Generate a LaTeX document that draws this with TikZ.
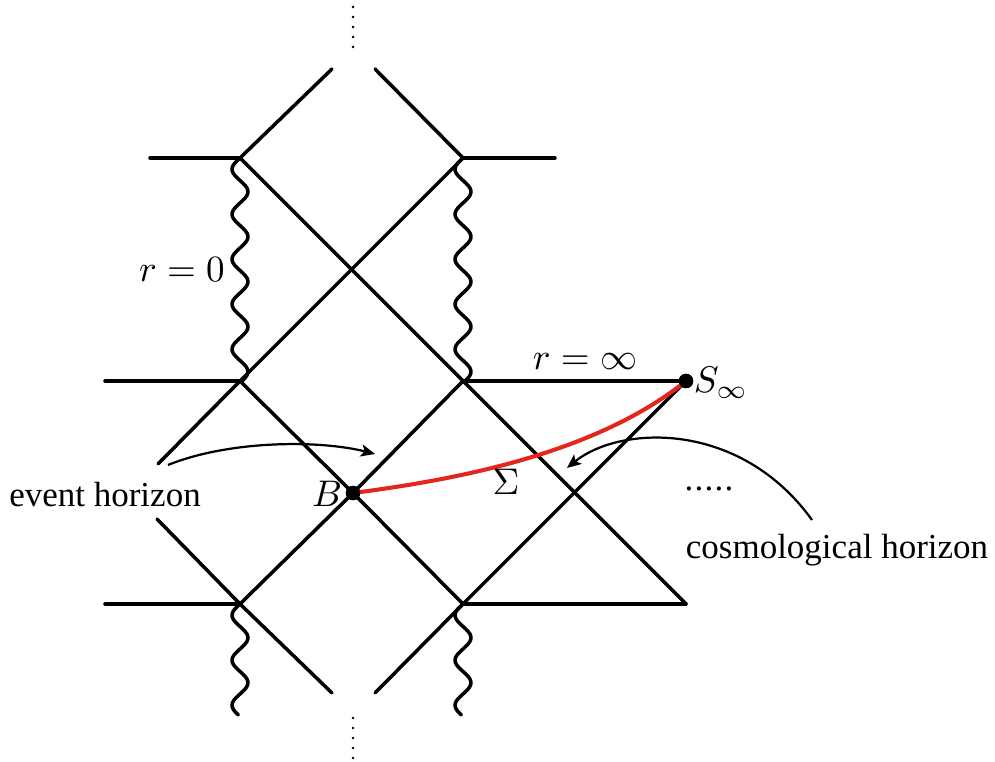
\documentclass[tikz,border=0pt]{standalone}
\usepackage{fontspec}
\newfontfamily\tnr{Liberation Serif}
\usetikzlibrary{arrows.meta}
\definecolor{sigred}{RGB}{228,38,28}
\begin{document}
\begin{tikzpicture}[x=0.27pt,y=-0.27pt,
  ln/.style={line width=0.95pt, line cap=round, line join=round},
  pointer/.style={line width=0.6pt, -{Stealth[length=3.8pt,width=3.3pt,inset=0.9pt]}},
  txt/.style={inner sep=0pt, font=\fontsize{9.45}{11}\selectfont\tnr},
  mth/.style={inner sep=0pt},
  dotpt/.style={circle, fill=black, inner sep=0pt, minimum size=3.9pt}
]
\useasboundingbox (0,0) rectangle (995,762);

% grid points
\coordinate (a1) at (240,158);
\coordinate (a2) at (463,158);
\coordinate (b1) at (240,381);
\coordinate (b2) at (463,381);
\coordinate (c1) at (240,604);
\coordinate (c2) at (463,604);
\coordinate (t) at (686,604);
\coordinate (tl) at (332,69);
\coordinate (tr) at (375,69);
\coordinate (bl) at (332,693);
\coordinate (br) at (375,693);
\coordinate (la) at (158,464);
\coordinate (lb) at (157,519);
\coordinate (h1l) at (150,158);
\coordinate (h1r) at (555,158);
\coordinate (h2l) at (105,381);
\coordinate (h3l) at (105,604);

\node[dotpt] (B) at (353,493) {};
\node[dotpt] (S) at (686,381) {};

% horizontal lines
\draw[ln] (h1l) -- (a1);
\draw[ln] (a2) -- (h1r);
\draw[ln] (h2l) -- (b1);
\draw[ln] (b2) -- (S.center);
\draw[ln] (h3l) -- (c1);
\draw[ln] (c2) -- (t);

% diagonal lines
\draw[ln] (tl) -- (a1) -- (b2) -- (t);
\draw[ln] (tr) -- (a2) -- (b1) -- (la);
\draw[ln] (lb) -- (c1) -- (bl);
\draw[ln] (b1) -- (B.center) -- (c2);
\draw[ln] (c1) -- (B.center) -- (b2);
\draw[ln] (S.center) -- (c2) -- (br);

% singularities (wavy lines)
\foreach \xc in {240,463} {
  \draw[ln] plot[smooth, domain=0:223, samples=90] ({\xc-8*sin(8*\x)}, {158+\x});
  \draw[ln] plot[smooth, domain=0:111, samples=45] ({\xc-8*sin(8*\x)}, {604+\x});
}

% vertical dots
\foreach \k in {0,...,4} {
  \fill (353,7+10*\k) circle (0.4pt);
  \fill (353,718+10*\k) circle (0.4pt);
}

% Sigma surface
\draw[sigred, line width=1.1pt] (B.center) .. controls (470,478) and (600,450) .. (S.center);
\node[dotpt] at (B) {};
\node[dotpt] at (S) {};

% labels
\node[mth] (lr0) at (182,270) {$r=0$};
\node[mth] (lrinf) at (585,362) {$r=\infty$};
\node[mth] (lS) at (721,383) {$S_\infty$};
\node[mth] (lB) at (327,494) {$B$};
\node[mth] (lSig) at (506,482) {$\Sigma$};
\node[txt] (ev) at (105,495) {event horizon};
\node[txt] (cos) at (837,550) {cosmological horizon};
\node[txt] (hdots) at (709,489) {.\kern0.35pt.\kern0.35pt.\kern0.35pt.\kern0.35pt.};

% pointers
\coordinate (evs) at (168,465);
\coordinate (eve) at (375,454);
\coordinate (cs) at (812,520);
\coordinate (ce) at (567,468);
\draw[pointer] (evs) .. controls (230,440) and (320,440) .. (eve);
\draw[pointer] (cs) .. controls (740,420) and (620,425) .. (ce);
\end{tikzpicture}
\end{document}
